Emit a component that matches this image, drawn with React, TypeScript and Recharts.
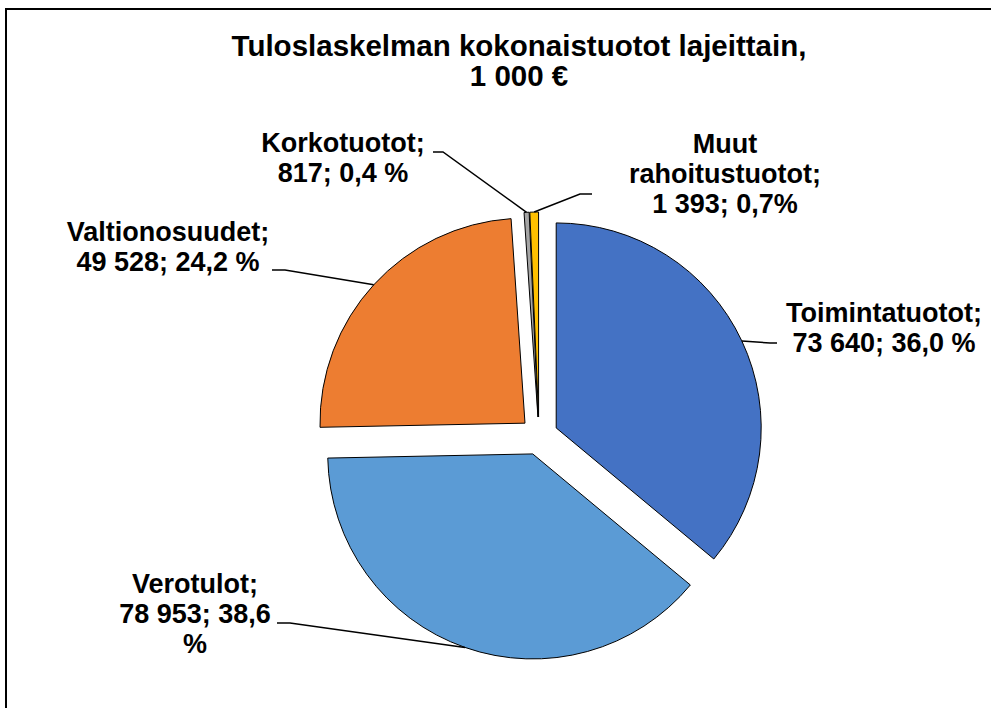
import { PieChart, Pie, Sector } from 'recharts';

const CATEGORIES = ['Toimintatuotot', 'Verotulot', 'Valtionosuudet', 'Korkotuotot', 'Muut rahoitustuotot'];
const VALUES = [73640, 78953, 49528, 817, 1393];
const LABEL_LINES = [
  ['Toimintatuotot;', '73 640; 36,0 %'],
  ['Verotulot;', '78 953; 38,6', '%'],
  ['Valtionosuudet;', '49 528; 24,2 %'],
  ['Korkotuotot;', '817; 0,4 %'],
  ['Muut', 'rahoitustuotot;', '1 393; 0,7%'],
];
const TITLE = ['Tuloslaskelman kokonaistuotot lajeittain,', '1 000 €'];

const COLORS = ['#4472C4', '#5B9BD5', '#ED7D31', '#A5A5A5', '#FFC000'];
const FONT = "'Liberation Sans', Arial, sans-serif";
const EXPLODE = 19;
const RADIAN = Math.PI / 180;

// manually placed labels, like in the Excel original: text centre, first baseline, leader elbow
const LABEL_POS = [
  { x: 884, y: 322, elbow: [[777, 343], [770, 343]] },
  { x: 195, y: 593, elbow: [[277, 623], [290, 623]] },
  { x: 168, y: 241, elbow: [[272, 270], [285, 270]] },
  { x: 343, y: 152, elbow: [[433, 152], [443, 152]] },
  { x: 725, y: 153, elbow: [[592, 194], [580, 194]] },
];

const data = CATEGORIES.map((name, i) => ({ name, value: VALUES[i] }));

function offset(midAngle: number) {
  return {
    dx: EXPLODE * Math.cos(-midAngle * RADIAN),
    dy: EXPLODE * Math.sin(-midAngle * RADIAN),
  };
}

const renderSlice = (props: any) => {
  const { cx, cy, midAngle, innerRadius, outerRadius, startAngle, endAngle, index } = props;
  const { dx, dy } = offset(midAngle);
  return (
    <Sector
      cx={cx + dx}
      cy={cy + dy}
      innerRadius={innerRadius}
      outerRadius={outerRadius}
      startAngle={startAngle}
      endAngle={endAngle}
      fill={COLORS[index]}
      stroke="#000"
      strokeWidth={1}
    />
  );
};

const renderLabel = (props: any) => {
  const { cx, cy, midAngle, outerRadius, index } = props;
  const { dx, dy } = offset(midAngle);
  const ax = cx + dx + outerRadius * Math.cos(-midAngle * RADIAN);
  const ay = cy + dy + outerRadius * Math.sin(-midAngle * RADIAN);
  const pos = LABEL_POS[index];
  const pts = [...pos.elbow, [ax, ay]].map((p) => p.join(',')).join(' ');
  return (
    <g>
      <polyline points={pts} fill="none" stroke="#000" strokeWidth={1.5} />
      <text
        x={pos.x}
        y={pos.y}
        textAnchor="middle"
        fontFamily={FONT}
        fontWeight="bold"
        fontSize={27}
        fill="#000"
      >
        {LABEL_LINES[index].map((line, j) => (
          <tspan key={j} x={pos.x} y={pos.y + j * 30}>
            {line}
          </tspan>
        ))}
      </text>
    </g>
  );
};

export default function App() {
  return (
    <div style={{ position: 'absolute', left: 0, top: 0, width: 991, height: 708, background: '#fff' }}>
      <div
        style={{
          position: 'absolute',
          left: 5,
          top: 8,
          width: 991,
          height: 708,
          borderLeft: '2px solid #000',
          borderTop: '2px solid #000',
        }}
      />
      <PieChart width={991} height={708} margin={{ top: 0, right: 0, bottom: 0, left: 0 }}>
        <text x={519} y={56} textAnchor="middle" fontFamily={FONT} fontWeight="bold" fontSize={29.5} fill="#000">
          {TITLE[0]}
        </text>
        <text x={519} y={86} textAnchor="middle" fontFamily={FONT} fontWeight="bold" fontSize={29.5} fill="#000">
          {TITLE[1]}
        </text>
        <Pie
          data={data}
          dataKey="value"
          nameKey="name"
          cx={539}
          cy={436}
          outerRadius={205}
          startAngle={90}
          endAngle={-270}
          fill="none"
          stroke="none"
          label={renderSlice}
          labelLine={false}
          isAnimationActive={false}
        />
        <Pie
          data={data}
          dataKey="value"
          nameKey="name"
          cx={539}
          cy={436}
          outerRadius={205}
          startAngle={90}
          endAngle={-270}
          fill="none"
          stroke="none"
          label={renderLabel}
          labelLine={false}
          isAnimationActive={false}
        />
      </PieChart>
    </div>
  );
}
